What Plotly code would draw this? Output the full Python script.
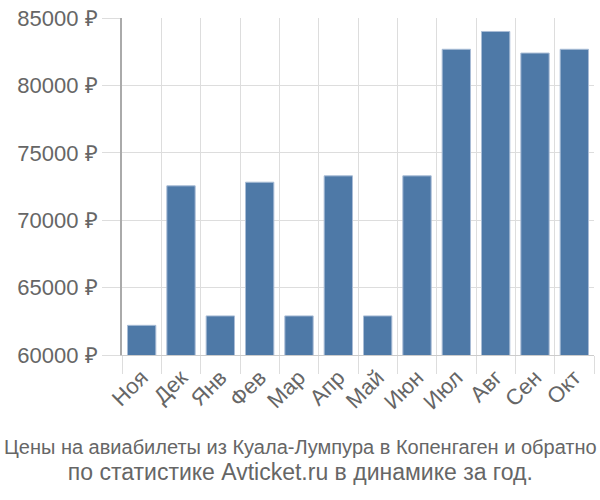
import plotly.graph_objects as go

months = ["Ноя", "Дек", "Янв", "Фев", "Мар", "Апр", "Май", "Июн", "Июл", "Авг", "Сен", "Окт"]
prices = [62200, 72550, 62900, 72820, 62900, 73290, 62900, 73290, 82680, 84000, 82400, 82680]
y_ticks = [60000, 65000, 70000, 75000, 80000, 85000]
y_labels = [f"{v} ₽" for v in y_ticks]
title_lines = ["Цены на авиабилеты из Куала-Лумпура в Копенгаген и обратно",
               "по статистике Avticket.ru в динамике за год."]

fig = go.Figure(go.Bar(
    x=months, y=prices,
    marker=dict(color="#4e79a7", line=dict(color="#a9bdd6", width=1)),
    width=0.72,
))

fig.update_layout(
    width=600, height=500,
    margin=dict(l=122, r=6, t=15, b=145),
    plot_bgcolor="white", paper_bgcolor="white",
    font=dict(family="Liberation Sans, Arial, sans-serif", color="#666666", size=19),
    showlegend=False,
    bargap=0.28,
)
fig.update_xaxes(
    type="category", tickson="boundaries",
    showgrid=True, gridcolor="#dddddd", gridwidth=1,
    ticks="outside", ticklen=18, tickcolor="#dddddd",
    tickangle=-45, tickfont=dict(size=22, color="#666666"),
    showline=True, linecolor="#cccccc", linewidth=1,
)
fig.update_yaxes(
    range=[60000, 85000], tickvals=y_ticks, ticktext=y_labels,
    showgrid=True, gridcolor="#dddddd", gridwidth=1,
    ticks="outside", ticklen=18, tickcolor="#dddddd",
    tickfont=dict(size=22, color="#666666"),
    showline=True, linecolor="#aaaaaa", linewidth=2,
    zeroline=False,
)
fig.add_annotation(text=title_lines[0] + "<br><span style='font-size:23px'>" + title_lines[1] + "</span>",
                   xref="paper", yref="paper", x=(300 - 122) / 472, xanchor="center",
                   y=-0.235, yanchor="top", showarrow=False,
                   font=dict(size=20, color="#666666"), align="center")

fig.write_html("out.html")
